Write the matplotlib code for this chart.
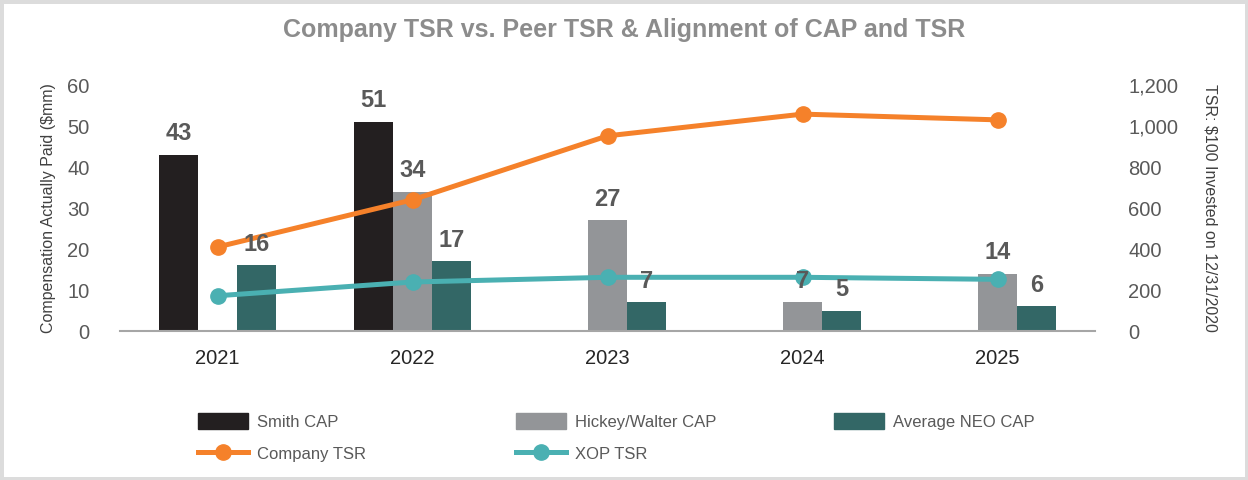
import matplotlib.pyplot as plt
import numpy as np
from matplotlib.patches import Rectangle
from matplotlib.lines import Line2D
from matplotlib.patches import Patch

# data
years = ['2021', '2022', '2023', '2024', '2025']
smith_cap = [43, 51, None, None, None]
hickey_cap = [None, 34, 27, 7, 14]
neo_cap = [16, 17, 7, 5, 6]
company_tsr = [410, 640, 952, 1058, 1030]
xop_tsr = [172, 239, 262, 262, 252]

# colours
c_smith = '#231F20'
c_hickey = '#939598'
c_neo = '#336766'
c_company = '#F5812A'
c_xop = '#4AB0B2'
c_text = '#595959'

plt.rcParams['font.family'] = ['Liberation Sans', 'DejaVu Sans']

fig = plt.figure(figsize=(12.48, 4.8), dpi=100)
ax = fig.add_axes([0.0962, 0.3104, 0.7812, 0.5125])
ax2 = ax.twinx()

x = np.arange(len(years))
w = 0.2
series = [(smith_cap, -w, c_smith), (hickey_cap, 0, c_hickey), (neo_cap, w, c_neo)]
for vals, off, col in series:
    for i, v in enumerate(vals):
        if v is None:
            continue
        ax.bar(x[i] + off, v, width=w, color=col, zorder=2)
        # labels go on the top axes so they sit over the lines
        ax2.annotate(str(v), (x[i] + off, v), xycoords=ax.transData,
                     xytext=(0, 7), textcoords='offset points',
                     ha='center', va='bottom', fontsize=17, fontweight='bold',
                     color=c_text, zorder=5)

ax2.plot(x, company_tsr, color=c_company, lw=3.6, marker='o', ms=11, zorder=3)
ax2.plot(x, xop_tsr, color=c_xop, lw=3.6, marker='o', ms=11, zorder=3)

ax.set_xlim(-0.5, 4.5)
ax.set_ylim(0, 60)
ax2.set_ylim(0, 1200)
ax.set_yticks(range(0, 61, 10))
ax2.set_yticks(range(0, 1201, 200))
ax2.set_yticklabels([f'{v:,}' for v in range(0, 1201, 200)])
ax.set_xticks(x)
ax.set_xticklabels(years)

for a in (ax, ax2):
    for s in ['top', 'left', 'right', 'bottom']:
        a.spines[s].set_visible(False)
    a.tick_params(length=0, labelsize=14.5, labelcolor=c_text)
ax.spines['bottom'].set_visible(True)
ax.spines['bottom'].set_color('#A6A6A6')
ax.spines['bottom'].set_linewidth(1.5)
ax.tick_params(axis='y', pad=22)
ax.tick_params(axis='x', pad=13, labelcolor='#262626')
ax2.tick_params(axis='y', pad=24)

ax.set_ylabel('Compensation Actually Paid ($mm)', fontsize=11.5, color='#404040', labelpad=8)
ax2.set_ylabel('TSR: $100 Invested on 12/31/2020', fontsize=11.5, color='#404040',
               rotation=270, labelpad=28)

fig.text(0.5, 0.937, 'Company TSR vs. Peer TSR & Alignment of CAP and TSR',
         ha='center', va='center', fontsize=18, fontweight='bold', color='#8C8C8C')

# legend, three columns placed separately
cols = [
    [Patch(color=c_smith), Line2D([], [], color=c_company, lw=3.6, marker='o', ms=11)],
    [Patch(color=c_hickey), Line2D([], [], color=c_xop, lw=3.6, marker='o', ms=11)],
    [Patch(color=c_neo)],
]
labels = [['Smith CAP', 'Company TSR'], ['Hickey/Walter CAP', 'XOP TSR'], ['Average NEO CAP']]
xs = [198, 516, 834]
for h, l, px in zip(cols, labels, xs):
    leg = fig.legend(h, l, loc='upper left', bbox_to_anchor=(px / 1248, 1 - 413 / 480),
                     frameon=False, fontsize=12, handlelength=3.0, handleheight=1.1,
                     handletextpad=0.55, labelspacing=0.95, borderpad=0, borderaxespad=0)
    for t in leg.get_texts():
        t.set_color(c_text)

fig.patches.append(Rectangle((0, 0), 1, 1, transform=fig.transFigure, fill=False,
                             edgecolor='#DCDCDC', lw=5, zorder=10))

fig.savefig('out.png', dpi=100)
